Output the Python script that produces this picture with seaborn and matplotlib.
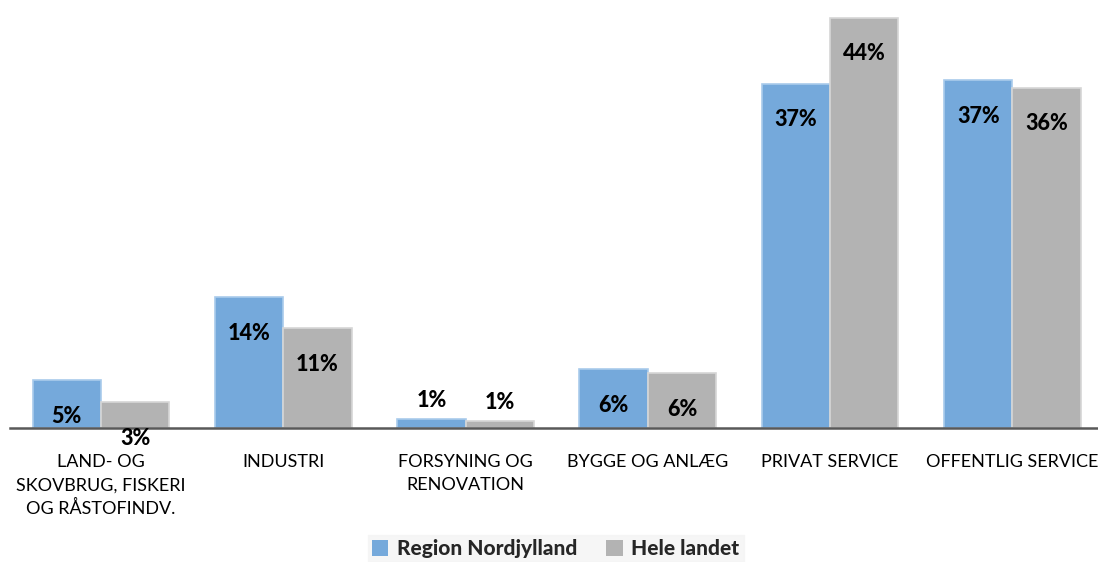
import seaborn as sns
import matplotlib.pyplot as plt
import pandas as pd

categories = ["LAND- OG\nSKOVBRUG, FISKERI\nOG RÅSTOFINDV.", "INDUSTRI", "FORSYNING OG\nRENOVATION",
              "BYGGE OG ANLÆG", "PRIVAT SERVICE", "OFFENTLIG SERVICE"]
nordjylland = [0.051, 0.140, 0.010, 0.063, 0.369, 0.373]
hele_landet = [0.028, 0.107, 0.008, 0.059, 0.440, 0.365]
nordjylland_lbl = ["5%", "14%", "1%", "6%", "37%", "37%"]
hele_landet_lbl = ["3%", "11%", "1%", "6%", "44%", "36%"]
series = ["Region Nordjylland", "Hele landet"]

df = pd.DataFrame({
    "cat": categories * 2,
    "serie": [series[0]] * 6 + [series[1]] * 6,
    "val": nordjylland + hele_landet,
})

sns.set_style("white")
plt.rcParams["font.family"] = ["Lato", "DejaVu Sans"]

fig = plt.figure(figsize=(10.98, 5.62), dpi=100)
ax = fig.add_axes([0.009, 0.2384, 0.991, 0.747])

sns.barplot(data=df, x="cat", y="val", hue="serie", order=categories,
            palette=["#75A9DB", "#B3B3B3"], width=0.75, saturation=1,
            edgecolor=None, linewidth=0, ax=ax)
for cont, edge in zip(ax.containers, ["#A9CBEB", "#D6D6D6"]):
    for p in cont:
        p.set_edgecolor(edge)
        p.set_linewidth(1.2)

for cont, lbls in zip(ax.containers, [nordjylland_lbl, hele_landet_lbl]):
    for p, lbl in zip(cont, lbls):
        h = p.get_height()
        x = p.get_x() + p.get_width() / 2
        dy = 13 if h < 0.02 else -26
        ax.annotate(lbl, (x, h), xytext=(0, dy), textcoords="offset points",
                    ha="center", va="center", fontsize=15.5, fontweight="black", color="black")

ax.set_xlim(-0.5, 5.47)
ax.set_ylim(0, 0.45)
ax.set_yticks([])
ax.set_xlabel("")
ax.set_ylabel("")
for s in ["top", "right", "left"]:
    ax.spines[s].set_visible(False)
ax.spines["bottom"].set_color("#595959")
ax.spines["bottom"].set_linewidth(1.8)
ax.tick_params(axis="x", length=0, pad=19, labelsize=13, colors="black")
for t in ax.get_xticklabels():
    t.set_va("top")
    t.set_ha("center")
    t.set_linespacing(1.52)

handles, labels = ax.get_legend_handles_labels()
ax.get_legend().remove()
leg = fig.legend(handles, labels, loc="center", bbox_to_anchor=(0.506, 0.024), ncol=2,
                 frameon=True, fancybox=False, prop={"weight": "black", "size": 15},
                 handlelength=0.8, handleheight=0.8, handletextpad=0.4, columnspacing=1.4,
                 borderpad=0.2, borderaxespad=0.3)
leg.get_frame().set_facecolor("#F4F4F4")
leg.get_frame().set_edgecolor("#F4F4F4")

fig.savefig("out.png", dpi=100)
